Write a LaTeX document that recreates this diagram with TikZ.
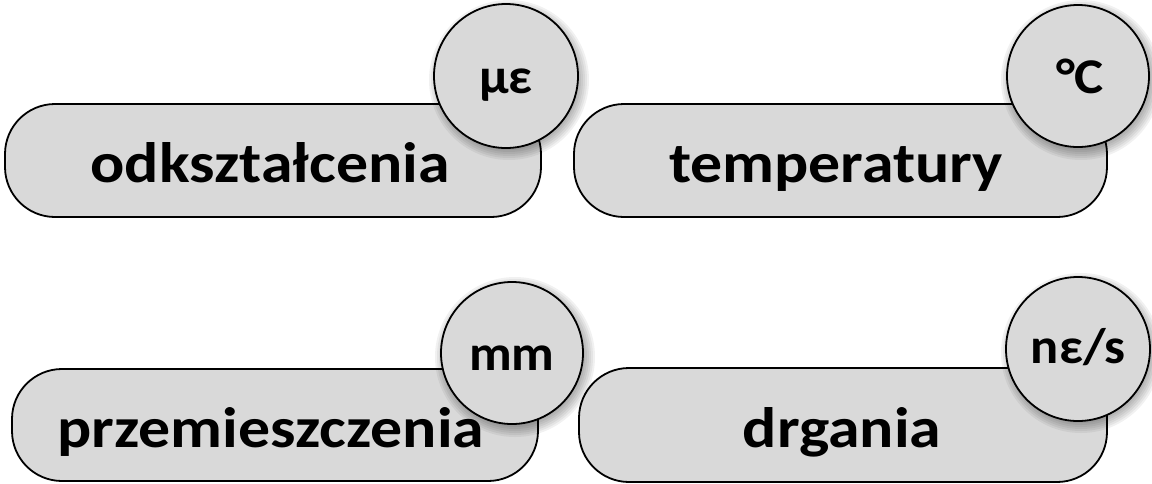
\documentclass[tikz,border=0pt]{standalone}
\usepackage{fontspec}
\setmainfont{Carlito}
\definecolor{pillgray}{HTML}{D9D9D9}
\newcommand{\widetext}[1]{\scalebox{1.12}[1]{#1}}
\newcommand{\wideunit}[1]{\scalebox{1.05}[1]{#1}}
\begin{document}
\begin{tikzpicture}[x=1pt,y=-1pt,
  pill/.style={draw=black, line width=1.8pt, fill=pillgray, rounded corners=50pt, inner sep=0pt},
  badge/.style={circle, draw=black, line width=1.8pt, fill=pillgray, inner sep=0pt},
  lbl/.style={font=\bfseries\fontsize{57}{60}\selectfont, anchor=base, inner sep=0pt},
  unitlbl/.style={font=\bfseries\fontsize{50}{54}\selectfont, anchor=base, inner sep=0pt},
  shade/.style={fill=black, opacity=0.055}
]
\useasboundingbox (0,0) rectangle (1152,483);

% centres of the unit badges
\coordinate (k1) at (506,76);
\coordinate (k2) at (1078,76);
\coordinate (k3) at (512,353);
\coordinate (k4) at (1078,349);

% ---- row 1, left
\node[pill, minimum width=536pt, minimum height=113pt] (p1) at (273,160.5) {};
\node[lbl] (t1) at (270,182) {\widetext{odkształcenia}};
\foreach \r in {66,68,...,80} \fill[shade] ([shift={(3,4)}]k1) circle[radius=\r];
\node[badge, minimum size=144pt] (c1) at (k1) {};
\node[unitlbl] (u1) at ([yshift=-17pt]k1) {\wideunit{με}};

% ---- row 1, right
\node[pill, minimum width=533pt, minimum height=113pt] (p2) at (840.5,160.5) {};
\node[lbl] (t2) at (836,182) {\widetext{temperatury}};
\foreach \r in {66,68,...,80} \fill[shade] ([shift={(3,4)}]k2) circle[radius=\r];
\node[badge, minimum size=142pt] (c2) at (k2) {};
\node[unitlbl] (u2) at ([shift={(2pt,-17pt)}]k2) {\scalebox{1.1}[1]{°C}};

% ---- row 2, left
\node[pill, minimum width=526pt, minimum height=112pt] (p3) at (275,425) {};
\node[lbl] (t3) at (271,447) {\widetext{przemieszczenia}};
\foreach \r in {66,68,...,80} \fill[shade] ([shift={(3,4)}]k3) circle[radius=\r];
\node[badge, minimum size=142pt] (c3) at (k3) {};
\node[unitlbl] (u3) at ([yshift=-17pt]k3) {\wideunit{mm}};

% ---- row 2, right
\node[pill, minimum width=528pt, minimum height=114pt] (p4) at (843,425) {};
\node[lbl] (t4) at (842,447) {\widetext{drgania}};
\foreach \r in {66,68,...,80} \fill[shade] ([shift={(3,4)}]k4) circle[radius=\r];
\node[badge, minimum size=144pt] (c4) at (k4) {};
\node[unitlbl] (u4) at ([yshift=-14pt]k4) {\wideunit{nε/s}};
\end{tikzpicture}
\end{document}
